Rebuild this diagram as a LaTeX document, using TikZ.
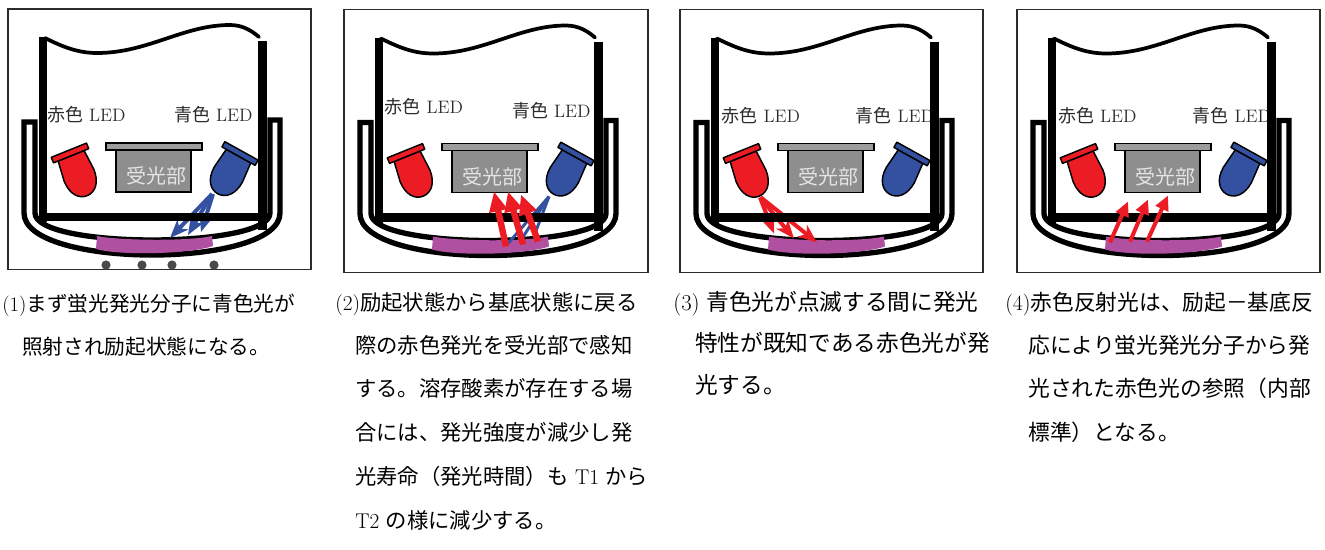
\documentclass[tikz,border=0pt]{standalone}
\usepackage{fontspec}
\newfontfamily\jp{Noto Sans CJK JP}
\usetikzlibrary{arrows.meta}
\definecolor{ledred}{HTML}{EC1C24}
\definecolor{ledblue}{HTML}{3451A1}
\definecolor{film}{HTML}{B050A0}
\definecolor{plategray}{HTML}{9C9C9C}
\definecolor{boxgray}{HTML}{8E8E8E}
\definecolor{ink}{HTML}{2B2B2B}
\definecolor{dotgray}{HTML}{4A4A4A}
\tikzset{
  panelframe/.style={draw=ink, line width=1.2pt},
  holder/.style={draw=black, line width=4pt, line join=miter},
  wall/.style={draw=black, line width=6.2pt},
  basebar/.style={draw=black, line width=6.2pt},
  rim/.style={draw=black, line width=2.8pt, line cap=round},
  ledbody/.style={draw=black, line width=1.1pt, line join=round},
  ledlabel/.style={text=ink, inner sep=0pt, font=\fontsize{13.5}{16}\selectfont},
  sensortext/.style={text=white!90!black, inner sep=0pt, font=\jp\fontsize{15}{18}\selectfont},
  caption/.style={anchor=base west, inner sep=0pt, text=black},
  blueray/.style={draw=ledblue, line width=3pt, -{Stealth[length=14pt,width=11pt,inset=4pt]}},
  blueline/.style={draw=ledblue, line width=2.2pt},
  redray/.style={draw=ledred, line width=3pt, -{Stealth[length=14pt,width=11pt,inset=4pt]}},
  bigarrow/.style={draw=ledred, line width=4.8pt, -{Triangle[length=15pt,width=13pt]}},
  smallarrow/.style={draw=ledred, line width=3pt, -{Triangle[length=11pt,width=10pt]}},
}
% one LED: flange at the origin, bullet body pointing "down", then rotated
\newcommand\drawled[4]{%
  \begin{scope}[shift={(#1,#2)},rotate=#3]
    \path[ledbody,fill=#4] (-14,3) -- (-16,24) .. controls (-16,38) and (-9,46) .. (0,46)
      .. controls (9,46) and (16,38) .. (16,24) -- (14,3) -- cycle;
    \path[ledbody,fill=#4] (-19,-3) rectangle (19,3);
  \end{scope}}
% U-shaped holder and the sensing film
\newcommand\cupbase{%
  \draw[holder] (27,113) -- (16,113) -- (16,204) .. controls (16,232) and (80,246) .. (144,246)
    .. controls (208,246) and (272,232) .. (272,204) -- (272,111) -- (262,111) -- (262,204)
    .. controls (262,222) and (203,231) .. (144,231) .. controls (85,231) and (27,222) .. (27,204) -- cycle;
  \fill[film] (89,227) .. controls (110,231.5) and (180,232.5) .. (204,227) -- (205,237)
    .. controls (180,245.5) and (110,246.5) .. (88,240) -- cycle;}
% vessel walls, bottom and wavy rim
\newcommand\cupwalls{%
  \draw[wall] (35,28) -- (35,213);
  \draw[wall] (254.5,32) -- (254.5,221);
  \draw[basebar] (35,208) -- (254.5,208);
  \draw[rim] (37,29) .. controls (55,38) and (70,44) .. (89,44) .. controls (140,44) and (175,16) .. (222,16)
    .. controls (235,16) and (244,22) .. (251,28);}
% photodetector
\newcommand\receiver[1]{%
  \draw[fill=plategray, line width=0.9pt] (98,134) rectangle (194,141);
  \draw[fill=boxgray, line width=0.9pt] (108,141) rectangle (183,183);
  \node[sensortext] (#1) at (148,167) {受光部};}
\newcommand\leds{%
  \drawled{62}{144}{22}{ledred}
  \drawled{232}{144.5}{-29}{ledblue}}

\begin{document}
\begin{tikzpicture}[x=0.75pt,y=-0.75pt]
\useasboundingbox (0,0) rectangle (1325,550);

% (1) blue excitation
\begin{scope}[shift={(8,9)}]
  \draw[panelframe] (0,0) rectangle (303,260.5);
  \cupbase
  \foreach \dx in {98,134,164,206} \fill[dotgray] (\dx,256) circle (4.6);
  \node[ledlabel] (p1red) at (78.5,106) {{\jp 赤色} LED};
  \node[ledlabel] (p1blue) at (205.5,106) {{\jp 青色} LED};
  \draw[blueray] (204,185) -- (162,229);
  \draw[blueray] (204,185) -- (180,226);
  \draw[blueray] (205,185) -- (193,223);
  \cupwalls
  \receiver{p1sensor}
  \leds
\end{scope}

% (2) red emission to the detector
\begin{scope}[shift={(344,9.5)}]
  \draw[panelframe] (0,0) rectangle (304,263);
  \cupbase
  \node[ledlabel] (p2red) at (80,97) {{\jp 赤色} LED};
  \node[ledlabel] (p2blue) at (207.5,101) {{\jp 青色} LED};
  \draw[blueline] (205,187) -- (164,234);
  \draw[blueline] (205,187) -- (178,229);
  \draw[blueline] (205,187) -- (191,224);
  \cupwalls
  \receiver{p2sensor}
  \leds
  \draw[bigarrow] (162,237) -- (150,182);
  \draw[bigarrow] (179,235) -- (164,182);
  \draw[bigarrow] (194,232) -- (177,185);
\end{scope}

% (3) red reference light
\begin{scope}[shift={(680,9.5)}]
  \draw[panelframe] (0,0) rectangle (303,263);
  \cupbase
  \node[ledlabel] (p3red) at (81,106) {{\jp 赤色} LED};
  \node[ledlabel] (p3blue) at (215,106) {{\jp 青色} LED};
  \draw[redray] (80,188) -- (94,224);
  \draw[redray] (80,188) -- (114,229);
  \draw[redray] (81,188) -- (137,233);
  \cupwalls
  \receiver{p3sensor}
  \leds
\end{scope}

% (4) reflected red light
\begin{scope}[shift={(1017,9.5)}]
  \draw[panelframe] (0,0) rectangle (303,263);
  \cupbase
  \node[ledlabel] (p4red) at (80.5,106.5) {{\jp 赤色} LED};
  \node[ledlabel] (p4blue) at (215,106.5) {{\jp 青色} LED};
  \cupwalls
  \receiver{p4sensor}
  \leds
  \draw[smallarrow] (93,233) -- (111,192);
  \draw[smallarrow] (113,232) -- (131,190);
  \draw[smallarrow] (130,232) -- (151,186);
\end{scope}

% captions
\node[caption, font=\fontsize{15.5}{18}\selectfont] (c1a) at (2,311) {(1){\jp まず蛍光発光分子に青色光が}};
\node[caption, font=\fontsize{15.5}{18}\selectfont] (c1b) at (22,354.5) {\jp 照射され励起状態になる。};

\node[caption, font=\fontsize{16}{18}\selectfont] (c2a) at (335,310) {(2){\jp 励起状態から基底状態に戻る}};
\node[caption, font=\fontsize{16}{18}\selectfont] (c2b) at (355,353) {\jp 際の赤色発光を受光部で感知};
\node[caption, font=\fontsize{16}{18}\selectfont] (c2c) at (355,396) {\jp する。溶存酸素が存在する場};
\node[caption, font=\fontsize{16}{18}\selectfont] (c2d) at (355,440) {\jp 合には、発光強度が減少し発};
\node[caption, font=\fontsize{16}{18}\selectfont] (c2e) at (355,484) {{\jp 光寿命（発光時間）も} T1 {\jp から}};
\node[caption, font=\fontsize{16}{18}\selectfont] (c2f) at (355,528) {T2 {\jp の様に減少する。}};

\node[caption, font=\fontsize{17}{18}\selectfont] (c3a) at (673,310) {(3) {\jp 青色光が点滅する間に発光}};
\node[caption, font=\fontsize{17}{18}\selectfont] (c3b) at (695,351.5) {\jp 特性が既知である赤色光が発};
\node[caption, font=\fontsize{17}{18}\selectfont] (c3c) at (695,393) {\jp 光する。};

\node[caption, font=\fontsize{16.3}{18}\selectfont] (c4a) at (1005,310) {(4){\jp 赤色反射光は、励起－基底反}};
\node[caption, font=\fontsize{16.3}{18}\selectfont] (c4b) at (1028,353) {\jp 応により蛍光発光分子から発};
\node[caption, font=\fontsize{16.3}{18}\selectfont] (c4c) at (1028,396.5) {\jp 光された赤色光の参照（内部};
\node[caption, font=\fontsize{16.3}{18}\selectfont] (c4d) at (1028,440) {\jp 標準）となる。};
\end{tikzpicture}
\end{document}
